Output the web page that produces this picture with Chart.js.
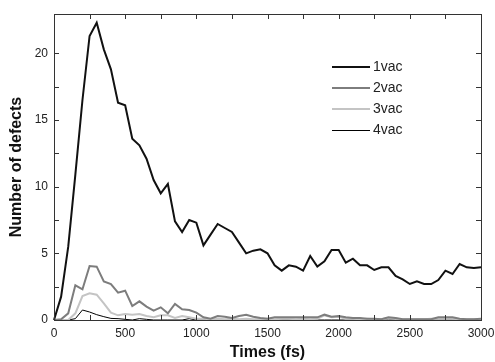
<!DOCTYPE html>
<html>
<head>
<meta charset="utf-8">
<script src="https://cdn.jsdelivr.net/npm/chart.js@4"></script>
<style>
  html, body { margin: 0; padding: 0; background: #fff; }
  #wrap { width: 495px; height: 362px; }
</style>
</head>
<body>
<div id="wrap"><canvas id="defectChart"></canvas></div>
<script>
const times = [0, 50, 100, 150, 200, 250, 300, 350, 400, 450, 500, 550, 600, 650, 700, 750, 800, 850, 900, 950,
  1000, 1050, 1100, 1150, 1200, 1250, 1300, 1350, 1400, 1450, 1500, 1550, 1600, 1650, 1700, 1750, 1800, 1850, 1900, 1950,
  2000, 2050, 2100, 2150, 2200, 2250, 2300, 2350, 2400, 2450, 2500, 2550, 2600, 2650, 2700, 2750, 2800, 2850, 2900, 2950, 3000];

const vac1 = [0, 1.75, 5.5, 10.9, 16.5, 21.3, 22.3, 20.3, 18.8, 16.3, 16.1, 13.6, 13.1, 12.1, 10.5, 9.5, 10.2, 7.4, 6.6, 7.5,
  7.3, 5.6, 6.4, 7.2, 6.9, 6.6, 5.8, 5.0, 5.2, 5.3, 5.0, 4.1, 3.7, 4.1, 4.0, 3.7, 4.8, 4.0, 4.4, 5.25,
  5.25, 4.3, 4.6, 4.1, 4.1, 3.75, 3.95, 3.95, 3.3, 3.05, 2.7, 2.9, 2.7, 2.7, 3.0, 3.7, 3.45, 4.2, 3.95, 3.9, 3.95];

const vac2 = [0, 0.05, 0.5, 2.6, 2.3, 4.05, 4.0, 2.9, 2.7, 2.05, 2.2, 1.05, 1.4, 1.0, 0.7, 0.95, 0.5, 1.2, 0.8, 0.75,
  0.55, 0.2, 0.1, 0.3, 0.25, 0.15, 0.3, 0.4, 0.25, 0.15, 0.1, 0.2, 0.2, 0.2, 0.2, 0.2, 0.2, 0.2, 0.4, 0.25,
  0.3, 0.2, 0.15, 0.15, 0.1, 0.1, 0.05, 0.2, 0.15, 0.05, 0.05, 0.05, 0.05, 0.05, 0.2, 0.2, 0.2, 0.1, 0.05, 0.05, 0.1];

const vac3 = [0, 0, 0, 0.5, 1.8, 2.0, 1.9, 1.25, 0.55, 0.35, 0.45, 0.4, 0.45, 0.3, 0.2, 0.35, 0.35, 0.15, 0.3, 0.2,
  0.1, 0.1, 0.05, 0.1, 0.05, 0.1, 0.05, 0.1, 0.05, 0.05, 0.1, 0.05, 0.1, 0.1, 0.05, 0.1, 0.05, 0.1, 0.35, 0.2,
  0.25, 0.1, 0.1, 0.05, 0.1, 0.05, 0.05, 0.15, 0.1, 0.05, 0.05, 0.05, 0.05, 0.1, 0.1, 0.1, 0.1, 0.05, 0.05, 0.05, 0.05];

const vac4 = [0, 0, 0, 0.1, 0.75, 0.6, 0.4, 0.25, 0.12, 0.1, 0.05, 0, 0.1, 0.05, 0, 0, 0, 0, 0, 0.1,
  0, 0, 0, 0, 0, 0, 0, 0, 0, 0, 0, 0, 0, 0, 0, 0, 0, 0, 0, 0,
  0, 0, 0, 0, 0, 0, 0, 0, 0, 0, 0, 0, 0, 0, 0, 0, 0, 0, 0, 0, 0];

const seriesNames = ['1vac', '2vac', '3vac', '4vac'];
const seriesValues = [vac1, vac2, vac3, vac4];
const seriesColors = ['#111111', '#7d7d7d', '#c4c4c4', '#000000'];
const seriesWidths = [2, 2, 2, 1];

function toPoints(values) {
  return values.map((v, i) => ({ x: times[i], y: v }));
}

// box around the plot with inward tick marks on all four sides
const frameTicks = {
  id: 'frameTicks',
  afterDraw(chart) {
    const { ctx, chartArea: a, scales } = chart;
    ctx.save();
    ctx.strokeStyle = '#333';
    ctx.lineWidth = 1;
    ctx.strokeRect(a.left + 0.5, a.top + 0.5, a.right - a.left, a.bottom - a.top);
    ctx.beginPath();
    scales.x.ticks.forEach(t => {
      if (t.value % 250 !== 0) return;
      const px = Math.round(scales.x.getPixelForValue(t.value)) + 0.5;
      ctx.moveTo(px, a.bottom); ctx.lineTo(px, a.bottom - 5);
      ctx.moveTo(px, a.top); ctx.lineTo(px, a.top + 5);
    });
    scales.y.ticks.forEach(t => {
      if (Math.abs(t.value / 2.5 - Math.round(t.value / 2.5)) > 1e-6) return;
      const py = Math.round(scales.y.getPixelForValue(t.value)) + 0.5;
      ctx.moveTo(a.left, py); ctx.lineTo(a.left + 5, py);
      ctx.moveTo(a.right, py); ctx.lineTo(a.right - 5, py);
    });
    ctx.stroke();
    ctx.restore();
  }
};

// legend drawn inside the plot area, upper right
const innerLegend = {
  id: 'innerLegend',
  afterDraw(chart) {
    const { ctx, chartArea: a } = chart;
    const x0 = Math.round(a.left + 278), x1 = Math.round(a.left + 316);
    let y = Math.round(a.top + 53);
    ctx.save();
    ctx.font = '14px "Liberation Sans", Arial, sans-serif';
    ctx.textBaseline = 'middle';
    chart.data.datasets.forEach(ds => {
      const off = ds.borderWidth % 2 ? 0.5 : 0;
      ctx.strokeStyle = ds.borderColor;
      ctx.lineWidth = ds.borderWidth;
      ctx.beginPath();
      ctx.moveTo(x0, y + off); ctx.lineTo(x1, y + off);
      ctx.stroke();
      ctx.fillStyle = '#222';
      ctx.fillText(ds.label, x1 + 3, y);
      y += 21;
    });
    ctx.restore();
  }
};

new Chart(document.getElementById('defectChart'), {
  type: 'line',
  data: {
    datasets: seriesNames.map((name, i) => ({
      label: name,
      data: toPoints(seriesValues[i]),
      borderColor: seriesColors[i],
      borderWidth: seriesWidths[i],
      pointRadius: 0,
      tension: 0,
      fill: false,
      clip: false
    }))
  },
  options: {
    responsive: true,
    maintainAspectRatio: false,
    animation: false,
    layout: { padding: { left: 0, right: 14, top: 14, bottom: 0 } },
    plugins: { legend: { display: false }, tooltip: { enabled: false } },
    scales: {
      x: {
        type: 'linear',
        min: 0,
        max: 3000,
        grid: { display: false, drawTicks: false },
        border: { display: false },
        ticks: {
          stepSize: 250,
          autoSkip: false,
          maxRotation: 0,
          padding: 6,
          color: '#222',
          font: { family: '"Liberation Sans", Arial, sans-serif', size: 12 },
          callback: v => (v % 500 === 0 ? v : '')
        },
        title: {
          display: true,
          text: 'Times (fs)',
          color: '#111',
          padding: { top: 0, bottom: 0 },
          font: { family: '"Liberation Sans", Arial, sans-serif', size: 16, weight: 'bold' }
        },
        afterFit: s => { s.height = 42; s.paddingLeft = 0; s.paddingRight = 0; }
      },
      y: {
        min: 0,
        max: 22.95,
        grid: { display: false, drawTicks: false },
        border: { display: false },
        ticks: {
          stepSize: 2.5,
          autoSkip: false,
          padding: 6,
          color: '#222',
          font: { family: '"Liberation Sans", Arial, sans-serif', size: 12 },
          callback: v => (v % 5 === 0 ? v : '')
        },
        title: {
          display: true,
          text: 'Number of defects',
          color: '#111',
          padding: { top: 7, bottom: 0 },
          font: { family: '"Liberation Sans", Arial, sans-serif', size: 16, weight: 'bold' }
        },
        afterFit: s => { s.width = 54; s.paddingTop = 0; s.paddingBottom = 0; }
      }
    }
  },
  plugins: [frameTicks, innerLegend]
});
</script>
</body>
</html>
